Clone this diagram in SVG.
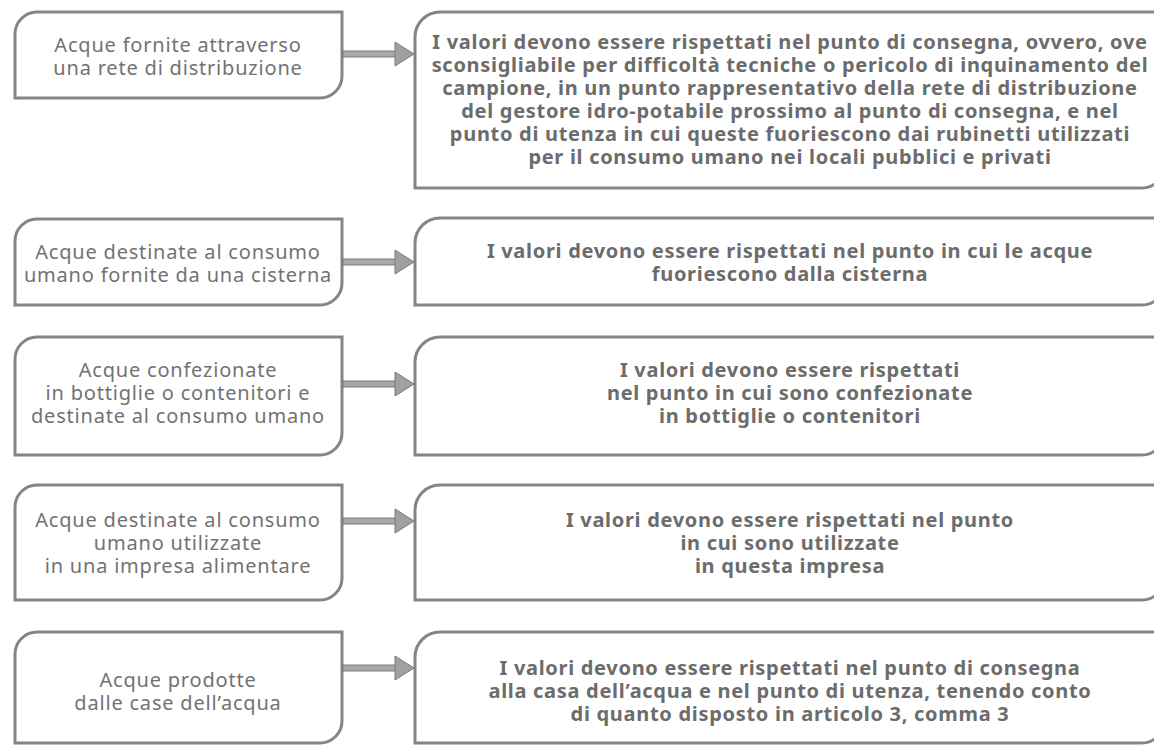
<svg xmlns="http://www.w3.org/2000/svg" width="1154" height="745" viewBox="0 0 1154 745">
<defs>
<style>
.box{fill:#ffffff;stroke:#858585;stroke-width:3}
.lt{font-family:"Noto Sans","Open Sans",sans-serif;font-size:20px;letter-spacing:0.8px;fill:#727272;text-anchor:middle}
.rt{font-family:"Noto Sans","Open Sans",sans-serif;font-size:20px;letter-spacing:0.7px;font-weight:bold;fill:#6c6c6c;text-anchor:middle}
.shaft{fill:#a8a8a8;stroke:#7a7a7a;stroke-width:1}
.head{fill:#a0a0a0;stroke:#7a7a7a;stroke-width:1}
</style>
</defs>
<rect width="1154" height="745" fill="#ffffff"/>
<g id="left1"><path class="box" d="M15,34 A22,22 0 0 1 37,12 H342 V76 A22,22 0 0 1 320,98 H15 Z"/>
<text class="lt"><tspan x="178" y="52">Acque fornite attraverso</tspan><tspan x="178" y="75">una rete di distribuzione</tspan></text></g>
<g id="right1"><path class="box" d="M415,37 A25,25 0 0 1 440,12 H1166 V163 A25,25 0 0 1 1141,188 H415 Z"/>
<text class="rt"><tspan x="790" y="49">I valori devono essere rispettati nel punto di consegna, ovvero, ove</tspan><tspan x="790" y="72">sconsigliabile per difficoltà tecniche o pericolo di inquinamento del</tspan><tspan x="790" y="95">campione, in un punto rappresentativo della rete di distribuzione</tspan><tspan x="790" y="118">del gestore idro-potabile prossimo al punto di consegna, e nel</tspan><tspan x="790" y="141">punto di utenza in cui queste fuoriescono dai rubinetti utilizzati</tspan><tspan x="790" y="164">per il consumo umano nei locali pubblici e privati</tspan></text></g>
<g id="left2"><path class="box" d="M15,241 A22,22 0 0 1 37,219 H342 V283 A22,22 0 0 1 320,305 H15 Z"/>
<text class="lt"><tspan x="178" y="259">Acque destinate al consumo</tspan><tspan x="178" y="282">umano fornite da una cisterna</tspan></text></g>
<g id="right2"><path class="box" d="M415,243 A25,25 0 0 1 440,218 H1166 V280 A25,25 0 0 1 1141,305 H415 Z"/>
<text class="rt"><tspan x="790" y="258">I valori devono essere rispettati nel punto in cui le acque</tspan><tspan x="790" y="281">fuoriescono dalla cisterna</tspan></text></g>
<g id="left3"><path class="box" d="M15,359 A22,22 0 0 1 37,337 H342 V433 A22,22 0 0 1 320,455 H15 Z"/>
<text class="lt"><tspan x="178" y="377">Acque confezionate</tspan><tspan x="178" y="400">in bottiglie o contenitori e</tspan><tspan x="178" y="423">destinate al consumo umano</tspan></text></g>
<g id="right3"><path class="box" d="M415,362 A25,25 0 0 1 440,337 H1166 V430 A25,25 0 0 1 1141,455 H415 Z"/>
<text class="rt"><tspan x="790" y="377">I valori devono essere rispettati</tspan><tspan x="790" y="400">nel punto in cui sono confezionate</tspan><tspan x="790" y="423">in bottiglie o contenitori</tspan></text></g>
<g id="left4"><path class="box" d="M15,507 A22,22 0 0 1 37,485 H342 V578 A22,22 0 0 1 320,600 H15 Z"/>
<text class="lt"><tspan x="178" y="527">Acque destinate al consumo</tspan><tspan x="178" y="550">umano utilizzate</tspan><tspan x="178" y="573">in una impresa alimentare</tspan></text></g>
<g id="right4"><path class="box" d="M415,510 A25,25 0 0 1 440,485 H1166 V575 A25,25 0 0 1 1141,600 H415 Z"/>
<text class="rt"><tspan x="790" y="527">I valori devono essere rispettati nel punto</tspan><tspan x="790" y="550">in cui sono utilizzate</tspan><tspan x="790" y="573">in questa impresa</tspan></text></g>
<g id="left5"><path class="box" d="M15,654 A22,22 0 0 1 37,632 H342 V721 A22,22 0 0 1 320,743 H15 Z"/>
<text class="lt"><tspan x="178" y="687">Acque prodotte</tspan><tspan x="178" y="710">dalle case dell’acqua</tspan></text></g>
<g id="right5"><path class="box" d="M415,657 A25,25 0 0 1 440,632 H1166 V718 A25,25 0 0 1 1141,743 H415 Z"/>
<text class="rt"><tspan x="790" y="675">I valori devono essere rispettati nel punto di consegna</tspan><tspan x="790" y="698">alla casa dell’acqua e nel punto di utenza, tenendo conto</tspan><tspan x="790" y="721">di quanto disposto in articolo 3, comma 3</tspan></text></g>
<g id="connectors">
<g transform="translate(0,54)"><rect class="shaft" x="343" y="-3" width="54" height="6"/><path class="head" d="M395,-12 L414,0 L395,12 Z"/></g>
<g transform="translate(0,262)"><rect class="shaft" x="343" y="-3" width="54" height="6"/><path class="head" d="M395,-12 L414,0 L395,12 Z"/></g>
<g transform="translate(0,384)"><rect class="shaft" x="343" y="-3" width="54" height="6"/><path class="head" d="M395,-12 L414,0 L395,12 Z"/></g>
<g transform="translate(0,521)"><rect class="shaft" x="343" y="-3" width="54" height="6"/><path class="head" d="M395,-12 L414,0 L395,12 Z"/></g>
<g transform="translate(0,668)"><rect class="shaft" x="343" y="-3" width="54" height="6"/><path class="head" d="M395,-12 L414,0 L395,12 Z"/></g>
</g>
</svg>
